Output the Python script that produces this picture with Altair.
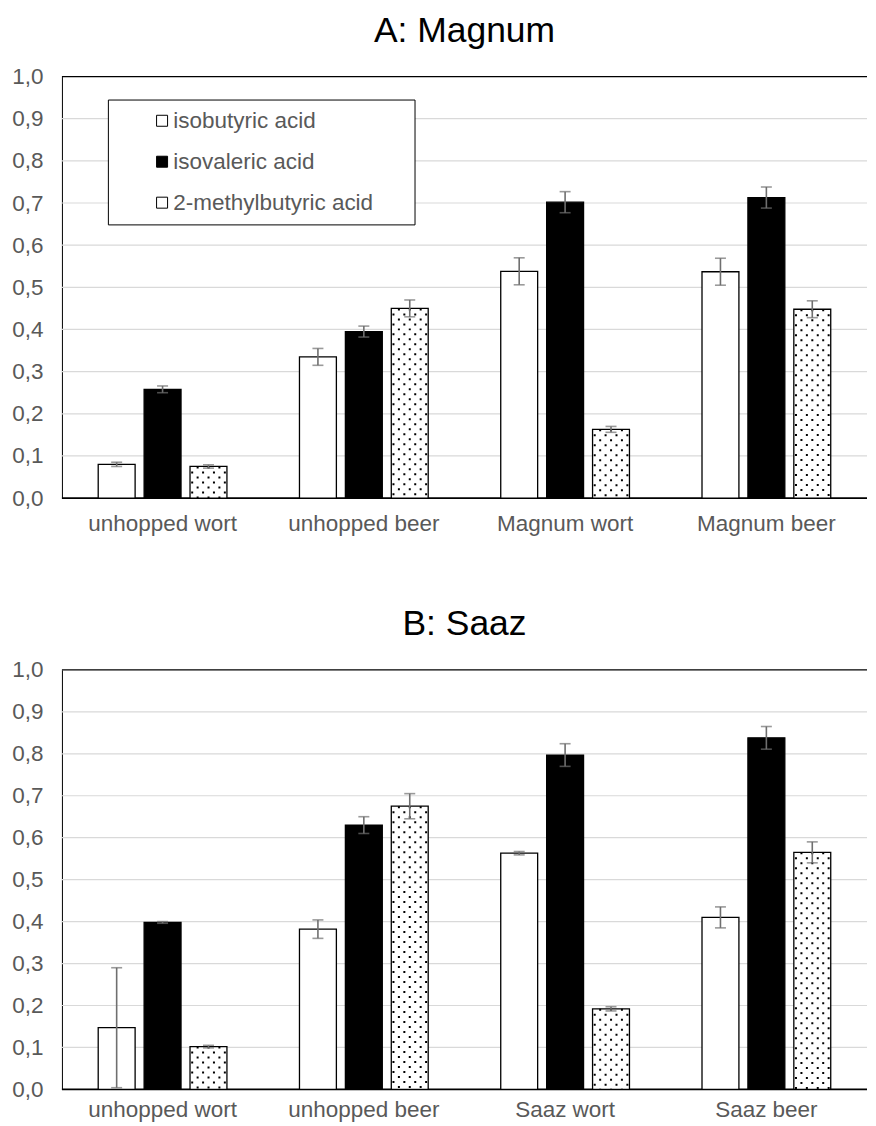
import altair as alt
import pandas as pd

FONT = "Liberation Sans"
GRAY = "#595959"
ERR_COLOR = "#6f6f6f"

series = ["isobutyric acid", "isovaleric acid", "2-methylbutyric acid"]
series_fill = ["white", "black", "white"]

cats_a = ["unhopped wort", "unhopped beer", "Magnum wort", "Magnum beer"]
cats_b = ["unhopped wort", "unhopped beer", "Saaz wort", "Saaz beer"]

y_ticks = [0.0, 0.1, 0.2, 0.3, 0.4, 0.5, 0.6, 0.7, 0.8, 0.9, 1.0]

# Panel A: Magnum
a_isobutyric = [0.080, 0.335, 0.538, 0.537]
a_isobutyric_err = [0.005, 0.020, 0.032, 0.032]
a_isovaleric = [0.258, 0.395, 0.702, 0.713]
a_isovaleric_err = [0.008, 0.013, 0.025, 0.025]
a_methylbutyric = [0.075, 0.450, 0.163, 0.448]
a_methylbutyric_err = [0.004, 0.020, 0.007, 0.020]

# Panel B: Saaz
b_isobutyric = [0.147, 0.382, 0.563, 0.410]
b_isobutyric_err = [0.143, 0.022, 0.004, 0.025]
b_isovaleric = [0.398, 0.630, 0.797, 0.838]
b_isovaleric_err = [0.002, 0.020, 0.027, 0.027]
b_methylbutyric = [0.102, 0.675, 0.192, 0.565]
b_methylbutyric_err = [0.003, 0.030, 0.005, 0.025]


def make_df(cats, vals, errs):
    rows = []
    for s, v_list, e_list in zip(series, vals, errs):
        for c, v, e in zip(cats, v_list, e_list):
            rows.append({"cat": c, "series": s, "value": v, "lo": v - e, "hi": v + e})
    return pd.DataFrame(rows)


df_a = make_df(cats_a, [a_isobutyric, a_isovaleric, a_methylbutyric],
               [a_isobutyric_err, a_isovaleric_err, a_methylbutyric_err])
df_b = make_df(cats_b, [b_isobutyric, b_isovaleric, b_methylbutyric],
               [b_isobutyric_err, b_isovaleric_err, b_methylbutyric_err])
df_grid = pd.DataFrame({"v": y_ticks})

PLOT_W = 806

y_scale = alt.Scale(domain=[0, 1], nice=False)
y_axis = alt.Axis(
    title=None,
    values=y_ticks,
    labelExpr="replace(format(datum.value, '.1f'), '.', ',')",
    ticks=False,
    domain=True,
    domainColor="black",
    domainWidth=1,
    labelPadding=19,
    labelFontSize=22.5,
    labelColor=GRAY,
    labelFont=FONT,
    grid=False,
)


def panel(df, cats, title, legend, height, label_pad):
    x_scale = alt.Scale(domain=cats, paddingInner=0, paddingOuter=0)
    x_axis = alt.Axis(
        title=None, labelAngle=0, ticks=False, domain=False,
        labelPadding=label_pad, labelFontSize=22.5, labelColor=GRAY, labelFont=FONT, grid=False,
    )
    x_enc = alt.X("cat:N", sort=cats, scale=x_scale, axis=x_axis)
    xoff = alt.XOffset("series:N", sort=series,
                       scale=alt.Scale(domain=series, paddingInner=0.196, paddingOuter=0.79))
    base = alt.Chart(df)

    grid = alt.Chart(df_grid).mark_rule().encode(
        y=alt.Y("v:Q", scale=y_scale, axis=y_axis),
        x=alt.value(0),
        x2=alt.value(PLOT_W),
        color=alt.condition("datum.v >= 0.99 || datum.v <= 0.01",
                            alt.value("#000000"), alt.value("#d9d9d9")),
        strokeWidth=alt.condition("datum.v <= 0.01", alt.value(1.6), alt.value(1.2)),
    )

    if legend:
        leg = alt.Legend(
            title="\u00a0", titleOrient="right", titleFontSize=4, titlePadding=31,
            orient="none", legendX=46, legendY=23,
            strokeColor="black", fillColor="white", padding=10,
            symbolType="square", symbolSize=121, symbolStrokeColor="black",
            symbolStrokeWidth=1, symbolOffset=33, labelOffset=0,
            labelFontSize=22.5, labelColor=GRAY, labelFont=FONT,
            rowPadding=18, labelLimit=400,
        )
    else:
        leg = None

    bars = base.mark_bar(stroke="black", strokeWidth=1.3).encode(
        x=x_enc,
        xOffset=xoff,
        y=alt.Y("value:Q", scale=y_scale, axis=y_axis),
        fill=alt.Fill("series:N", sort=series,
                      scale=alt.Scale(domain=series, range=series_fill), legend=leg),
    )

    dot_layers = []
    for k in range(-3, 4):
        dot_layers.append(
            base.transform_filter(alt.datum.series == series[2]).mark_rule(
                color="black", strokeWidth=2, strokeDash=[2, 8],
                strokeDashOffset=(5 if k % 2 else 0), xOffset=46 + 5.45 * k,
            ).encode(
                x=alt.X("cat:N", sort=cats, bandPosition=0.5, scale=x_scale, axis=x_axis),
                y=alt.Y("value:Q", scale=y_scale, axis=y_axis),
                y2=alt.datum(0),
            )
        )

    err = base.mark_rule(color=ERR_COLOR, strokeWidth=1.6).encode(
        x=x_enc, xOffset=xoff,
        y=alt.Y("lo:Q", scale=y_scale, axis=y_axis), y2="hi:Q",
    )
    cap_hi = base.mark_tick(color=ERR_COLOR, thickness=1.6, size=11).encode(
        x=x_enc, xOffset=xoff, y=alt.Y("hi:Q", scale=y_scale, axis=y_axis),
    )
    cap_lo = base.mark_tick(color=ERR_COLOR, thickness=1.6, size=11).encode(
        x=x_enc, xOffset=xoff, y=alt.Y("lo:Q", scale=y_scale, axis=y_axis),
    )

    return alt.layer(grid, bars, *dot_layers, err, cap_hi, cap_lo).properties(
        width=PLOT_W, height=height,
        title=alt.TitleParams(title, fontSize=35.5, font=FONT, color="black",
                              fontWeight="normal", anchor="middle", frame="group", offset=16),
    )


chart = alt.vconcat(
    panel(df_a, cats_a, "A: Magnum", True, 422, 14),
    panel(df_b, cats_b, "B: Saaz", False, 420, 9),
    spacing=72,
).resolve_scale(fill="independent", x="independent").properties(
    padding={"left": 3, "top": 5, "right": 0, "bottom": 0}
).configure(font=FONT).configure_view(stroke=None)

chart.save("out.html", embed_options={"renderer": "svg", "actions": False})
